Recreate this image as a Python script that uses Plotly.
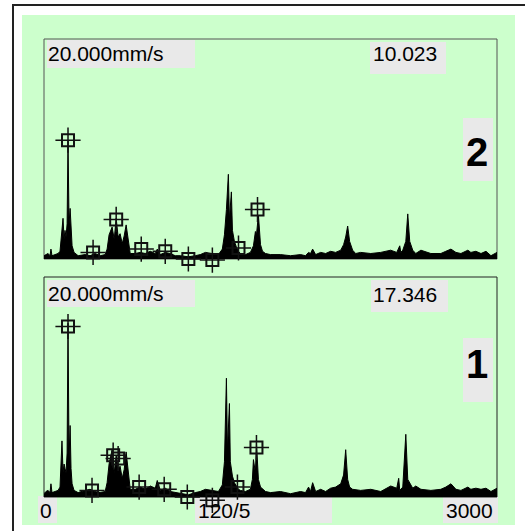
import plotly.graph_objects as go

W, H = 525, 531

# ---------------- data ----------------
# Spectrum 2 (top panel): frequency, amplitude (mm/s)
freq2 = [0, 13, 27, 40, 46, 53, 73, 93, 106, 119, 126, 133, 139, 146, 153, 159, 166, 173, 179, 186,
         199, 226, 272, 305, 338, 372, 405, 418, 431, 451, 465, 478, 491, 504, 518, 531, 544, 558,
         571, 604, 637, 670, 704, 737, 750, 770, 803, 836, 869, 903, 956, 1002, 1035, 1069, 1115,
         1155, 1181, 1195, 1208, 1221, 1228, 1241, 1248, 1261, 1274, 1288, 1301, 1334, 1367, 1387,
         1400, 1407, 1420, 1434, 1447, 1467, 1500, 1566, 1633, 1699, 1732, 1752, 1765, 1779, 1799,
         1832, 1865, 1898, 1931, 1965, 1984, 1998, 2011, 2024, 2044, 2064, 2097, 2164, 2230, 2296,
         2336, 2356, 2363, 2376, 2396, 2409, 2422, 2442, 2462, 2496, 2562, 2628, 2661, 2695, 2728,
         2761, 2807, 2827, 2860, 2894, 2927, 2960, 3000]
amp2 = [0.3, 0.4, 0.5, 0.3, 0.9, 0.3, 0.4, 0.5, 0.7, 2.3, 3.7, 1.8, 2.6, 2.0, 3.2, 10.8, 3.2, 4.6, 2.2, 1.2,
        0.6, 0.3, 0.4, 0.3, 0.5, 0.3, 0.4, 0.9, 2.2, 2.9, 1.8, 3.7, 2.0, 2.3, 1.4, 2.1, 3.1, 1.6,
        0.5, 0.5, 0.6, 0.5, 0.7, 0.5, 0.9, 0.4, 0.6, 0.5, 0.3, 0.3, 0.2, 0.3, 0.4, 0.6, 0.5,
        0.4, 0.9, 2.2, 4.5, 7.7, 3.6, 6.1, 2.6, 1.6, 1.1, 0.7, 0.5, 0.4, 0.6, 1.2,
        2.5, 2.2, 4.0, 1.3, 0.7, 0.5, 0.4, 0.4, 0.3, 0.4, 0.3, 0.6, 0.5, 0.9, 0.4,
        0.6, 0.5, 0.7, 0.6, 0.8, 1.3, 2.0, 3.0, 1.6, 0.8, 0.5, 0.6, 0.5, 0.6, 0.8,
        0.6, 1.2, 0.6, 0.8, 1.6, 4.1, 1.6, 0.8, 0.5, 0.8, 0.5, 0.5, 0.7, 0.9, 0.6,
        0.5, 0.8, 0.6, 0.7, 0.5, 0.7, 0.3, 0.6]
mark_f2 = [159, 325, 478, 644, 803, 956, 1115, 1288, 1414]
mark_a2 = [10.8, 0.6, 3.6, 0.9, 0.7, 0.0, -0.1, 1.0, 4.5]

# Spectrum 1 (bottom panel)
freq1 = [0, 13, 27, 40, 46, 53, 73, 93, 106, 119, 126, 133, 139, 146, 153, 159, 166, 173, 179, 186,
         199, 226, 272, 305, 338, 372, 405, 418, 431, 451, 465, 478, 491, 504, 518, 531, 544, 558,
         571, 604, 637, 670, 704, 737, 750, 770, 803, 836, 869, 903, 956, 1002, 1035, 1069, 1115,
         1155, 1181, 1195, 1208, 1215, 1228, 1234, 1248, 1261, 1288, 1301, 1334, 1367, 1380, 1387,
         1400, 1407, 1420, 1434, 1467, 1500, 1566, 1633, 1699, 1732, 1752, 1765, 1779, 1799, 1832,
         1865, 1898, 1931, 1965, 1984, 1998, 2011, 2024, 2044, 2097, 2164, 2230, 2296, 2336, 2349,
         2356, 2376, 2396, 2409, 2442, 2462, 2496, 2562, 2628, 2661, 2695, 2728, 2761, 2807, 2827,
         2860, 2894, 2927, 2960, 3000]
amp1 = [0.3, 0.5, 0.6, 0.4, 1.2, 0.4, 0.5, 0.6, 0.9, 5.1, 2.3, 3.0, 2.6, 2.2, 4.0, 15.8, 3.5, 6.5, 2.6, 1.2,
        0.6, 0.4, 0.6, 0.7, 0.5, 0.4, 0.5, 1.3, 3.0, 4.3, 2.2, 3.8, 2.6, 2.8, 1.7, 2.5, 4.1, 2.0,
        0.7, 0.7, 0.9, 0.7, 1.0, 0.8, 1.5, 0.6, 0.8, 0.5, 0.4, 0.3, 0.2, 0.4, 0.5, 0.7, 0.6,
        0.5, 1.1, 3.2, 10.8, 4.2, 8.5, 3.2, 1.9, 1.3, 0.7, 0.6, 0.5, 0.7, 1.6, 3.4,
        2.2, 4.9, 1.6, 0.9, 0.5, 0.4, 0.5, 0.3, 0.5, 0.4, 0.9, 0.5, 1.3, 0.5, 0.7,
        0.5, 0.8, 0.9, 1.2, 2.0, 4.3, 1.6, 0.9, 0.7, 0.6, 0.7, 0.5, 1.0, 0.8, 1.7,
        0.6, 0.9, 5.7, 1.6, 0.8, 1.0, 0.7, 0.6, 0.7, 0.9, 1.2, 0.7, 0.6, 0.9, 0.7,
        0.8, 0.7, 0.8, 0.5, 0.8]
mark_f1 = [159, 318, 458, 491, 630, 796, 949, 1115, 1281, 1407]
mark_a1 = [15.5, 0.6, 3.8, 3.5, 0.9, 0.7, 0.0, -0.3, 0.9, 4.5]

scale_label = "20.000mm/s"
value2 = "10.023"
value1 = "17.346"
x_tick_labels = ["0", "120/5", "3000"]
x_range = [0, 3000]
y_range = [-1, 20]     # a little room below zero so markers under the baseline stay visible

# ---------------- helpers ----------------
def px(x):
    return x / W

def py(y):
    return 1 - y / H

GREEN = "#ccffcc"
GREY = "#e9e9e9"
MARK = "#111111"
FONT = "Liberation Sans, Arial, sans-serif"

fig = go.Figure()

def add_panel(freq, amp, mf, ma, xa, ya):
    fig.add_trace(go.Scatter(x=freq, y=amp, mode="lines", fill="tozeroy",
                             fillcolor="black", line=dict(color="black", width=1),
                             xaxis=xa, yaxis=ya, hoverinfo="skip", showlegend=False))
    fig.add_trace(go.Scatter(x=mf, y=ma, mode="markers", cliponaxis=False,
                             marker=dict(symbol="cross-thin-open", size=18, color=MARK,
                                         line=dict(color=MARK, width=1.5)),
                             xaxis=xa, yaxis=ya, hoverinfo="skip", showlegend=False))
    fig.add_trace(go.Scatter(x=mf, y=ma, mode="markers", cliponaxis=False,
                             marker=dict(symbol="square-open", size=12, color=MARK,
                                         line=dict(color=MARK, width=2)),
                             xaxis=xa, yaxis=ya, hoverinfo="skip", showlegend=False))

add_panel(freq2, amp2, mark_f2, mark_a2, "x", "y")
add_panel(freq1, amp1, mark_f1, mark_a1, "x2", "y2")

axis_common = dict(showgrid=False, zeroline=False, showticklabels=False, ticks="",
                   showline=False, fixedrange=True)

shapes = [
    dict(type="rect", xref="paper", yref="paper", x0=px(13), x1=px(540), y0=py(5), y1=py(545),
         line=dict(color="#222222", width=2), fillcolor="white", layer="below"),
    dict(type="rect", xref="paper", yref="paper", x0=px(22), x1=px(515), y0=py(15), y1=py(525),
         line=dict(width=0), fillcolor=GREEN, layer="below"),
]

def grey_box(x0, x1, y0, y1):
    shapes.append(dict(type="rect", xref="paper", yref="paper", x0=px(x0), x1=px(x1),
                       y0=py(y0), y1=py(y1), line=dict(width=0), fillcolor=GREY, layer="below"))

grey_box(47, 195, 40, 68)
grey_box(370, 446, 42, 74)
grey_box(463, 493, 118, 181)
grey_box(47, 195, 280, 307)
grey_box(371, 448, 280, 312)
grey_box(463, 493, 338, 402)
grey_box(38, 57, 496, 523)
grey_box(195, 332, 496, 523)
grey_box(443, 498, 496, 523)

# panel frames
for (y0, y1, col) in [(39, 259, "#555555"), (277, 497, "#222222")]:
    shapes.append(dict(type="rect", xref="paper", yref="paper", x0=px(44), x1=px(497),
                       y0=py(y0), y1=py(y1), line=dict(color=col, width=1),
                       fillcolor="rgba(0,0,0,0)", layer="below"))

annotations = []

def label(text, x, y, anchor="left", size=21, bold=False):
    annotations.append(dict(text=("<b>%s</b>" % text) if bold else text,
                            xref="paper", yref="paper", x=px(x), y=py(y),
                            xanchor=anchor, yanchor="middle", showarrow=False,
                            font=dict(family=FONT, size=size, color="black")))

label(scale_label, 46, 53)
label(value2, 371, 53)
label("2", 477, 152, anchor="center", size=40, bold=True)
label(scale_label, 46, 293)
label(value1, 371, 294)
label("1", 477, 364, anchor="center", size=40, bold=True)
label(x_tick_labels[0], 38, 510)
label(x_tick_labels[1], 196, 510)
label(x_tick_labels[2], 495, 510, anchor="right")

# 11 px per mm/s; the domains extend 11 px below each frame for the -1 headroom
fig.update_layout(
    width=W, height=H, margin=dict(l=0, r=0, t=0, b=0),
    paper_bgcolor="white", plot_bgcolor="rgba(0,0,0,0)",
    xaxis=dict(domain=[px(44), px(497)], range=x_range, anchor="y", **axis_common),
    yaxis=dict(domain=[py(270), py(39)], range=y_range, anchor="x", **axis_common),
    xaxis2=dict(domain=[px(44), px(497)], range=x_range, anchor="y2", **axis_common),
    yaxis2=dict(domain=[py(508), py(277)], range=y_range, anchor="x2", **axis_common),
    shapes=shapes, annotations=annotations, showlegend=False,
)

fig.write_html("out.html", config={"displayModeBar": False},
               post_script="document.body.style.margin='0';document.body.style.overflow='hidden';")
